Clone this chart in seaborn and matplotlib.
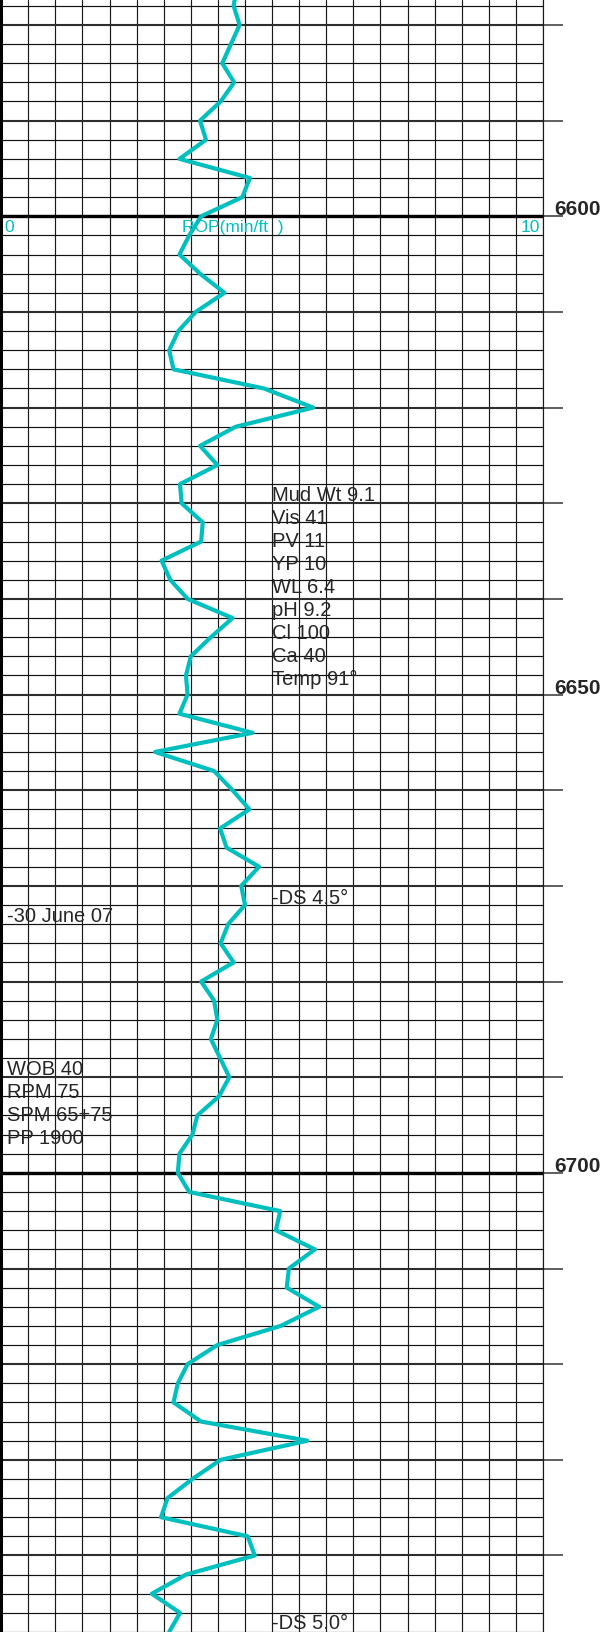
import numpy as np
import matplotlib.pyplot as plt
import seaborn as sns

# ROP log readings, one every 2 ft
depth_ft = list(range(6576, 6750, 2))
rop_min_per_ft = [
    4.35, 4.29, 4.40, 4.24, 4.08, 4.30, 4.05, 3.67, 3.78, 3.29,
    4.59, 4.45, 3.69, 3.47, 3.29, 3.67, 4.12, 3.59, 3.27, 3.10,
    3.18, 4.85, 5.76, 4.33, 3.67, 3.99, 3.30, 3.33, 3.72, 3.69,
    2.96, 3.12, 3.44, 4.27, 3.87, 3.50, 3.41, 3.44, 3.29, 4.64,
    2.84, 3.93, 4.27, 4.58, 4.04, 4.16, 4.76, 4.43, 4.50, 4.19,
    4.05, 4.29, 3.69, 3.93, 3.99, 3.87, 4.04, 4.21, 4.02, 3.62,
    3.53, 3.29, 3.26, 3.47, 5.15, 5.07, 5.79, 5.31, 5.27, 5.87,
    5.16, 3.99, 3.44, 3.26, 3.18, 3.69, 5.65, 4.05, 3.53, 3.07,
    2.95, 4.55, 4.68, 3.41, 2.78, 3.30, 3.10,
]

# Notes written on the log
mud_notes = ["Mud Wt 9.1", "Vis 41", "PV 11", "YP 10", "WL 6.4",
             "pH 9.2", "Cl 100", "Ca 40", "Temp 91°"]
drill_notes = ["WOB 40", "RPM 75", "SPM 65+75", "PP 1900"]
survey_notes = ["-DS 4.5°", "-DS 5.0°"]
survey_depths = [6671.3, 6747.1]
date_note = "-30 June 07"
date_depth = 6673.2
depth_labels = [6600, 6650, 6700]

sns.set_style("white")
plt.rcParams['font.family'] = ['Liberation Sans', 'DejaVu Sans']

curve_color = '#00BFBF'
note_size = 14.5

fig = plt.figure(figsize=(6.02, 16.32), dpi=100)
ax = fig.add_axes([0.002, 0.0, 0.9, 1.0])

sns.lineplot(x=rop_min_per_ft, y=depth_ft, sort=False, estimator=None,
             orient='y', color=curve_color, lw=3.0, ax=ax, legend=False)

ax.set_xlim(0, 10)
ax.set_ylim(6747.44, 6577.39)
ax.set_xlabel('')
ax.set_ylabel('')

# chart-paper grid: 0.5 min/ft across, 2 ft down, heavier every 10 ft
ax.set_xticks(np.arange(0, 10.01, 0.5))
ax.set_yticks(np.arange(6580, 6750, 10))
ax.set_yticks(np.arange(6578, 6750, 2), minor=True)
ax.set_axisbelow(True)
ax.grid(axis='x', which='major', color='#1a1a1a', lw=0.85)
ax.grid(axis='y', which='minor', color='#111111', lw=0.85)
ax.grid(axis='y', which='major', color='#2e2e2e', lw=1.5)
for d in [6600, 6700]:
    ax.axhline(d, color='black', lw=2.4, zorder=1)

ax.tick_params(axis='x', which='both', bottom=False, labelbottom=False)
ax.tick_params(axis='y', which='major', left=False, labelleft=False,
               right=True, length=14.5, width=1.1, color='#333333')
ax.tick_params(axis='y', which='minor', left=False, right=False)

ax.spines['top'].set_visible(False)
ax.spines['bottom'].set_visible(False)
ax.spines['left'].set_color('black')
ax.spines['left'].set_linewidth(2.2)
ax.spines['right'].set_color('#1a1a1a')
ax.spines['right'].set_linewidth(0.85)

# track header under the 6600 line
ax.text(0.05, 6601.2, "0", color=curve_color, fontsize=12.5, va='center', ha='left')
ax.text(3.33, 6601.2, "ROP(min/ft  )", color=curve_color, fontsize=12.5,
        va='center', ha='left')
ax.text(9.94, 6601.2, "10", color=curve_color, fontsize=12.5, va='center', ha='right')

# depth labels on the right
for d in depth_labels:
    ax.text(1.02, d - 0.1, str(d), transform=ax.get_yaxis_transform(),
            fontsize=15, fontweight='bold', va='baseline', ha='left', clip_on=False)

# notes
for i, s in enumerate(mud_notes):
    ax.text(5.0, 6629.15 + 2.41 * i, s, fontsize=note_size, va='center', ha='left')
for i, s in enumerate(drill_notes):
    ax.text(0.1, 6689.16 + 2.41 * i, s, fontsize=note_size, va='center', ha='left')
for s, d in zip(survey_notes, survey_depths):
    ax.text(5.0, d, s, fontsize=note_size, va='center', ha='left')
ax.text(0.1, date_depth, date_note, fontsize=note_size, va='center', ha='left')

fig.savefig('out.png', dpi=100)
